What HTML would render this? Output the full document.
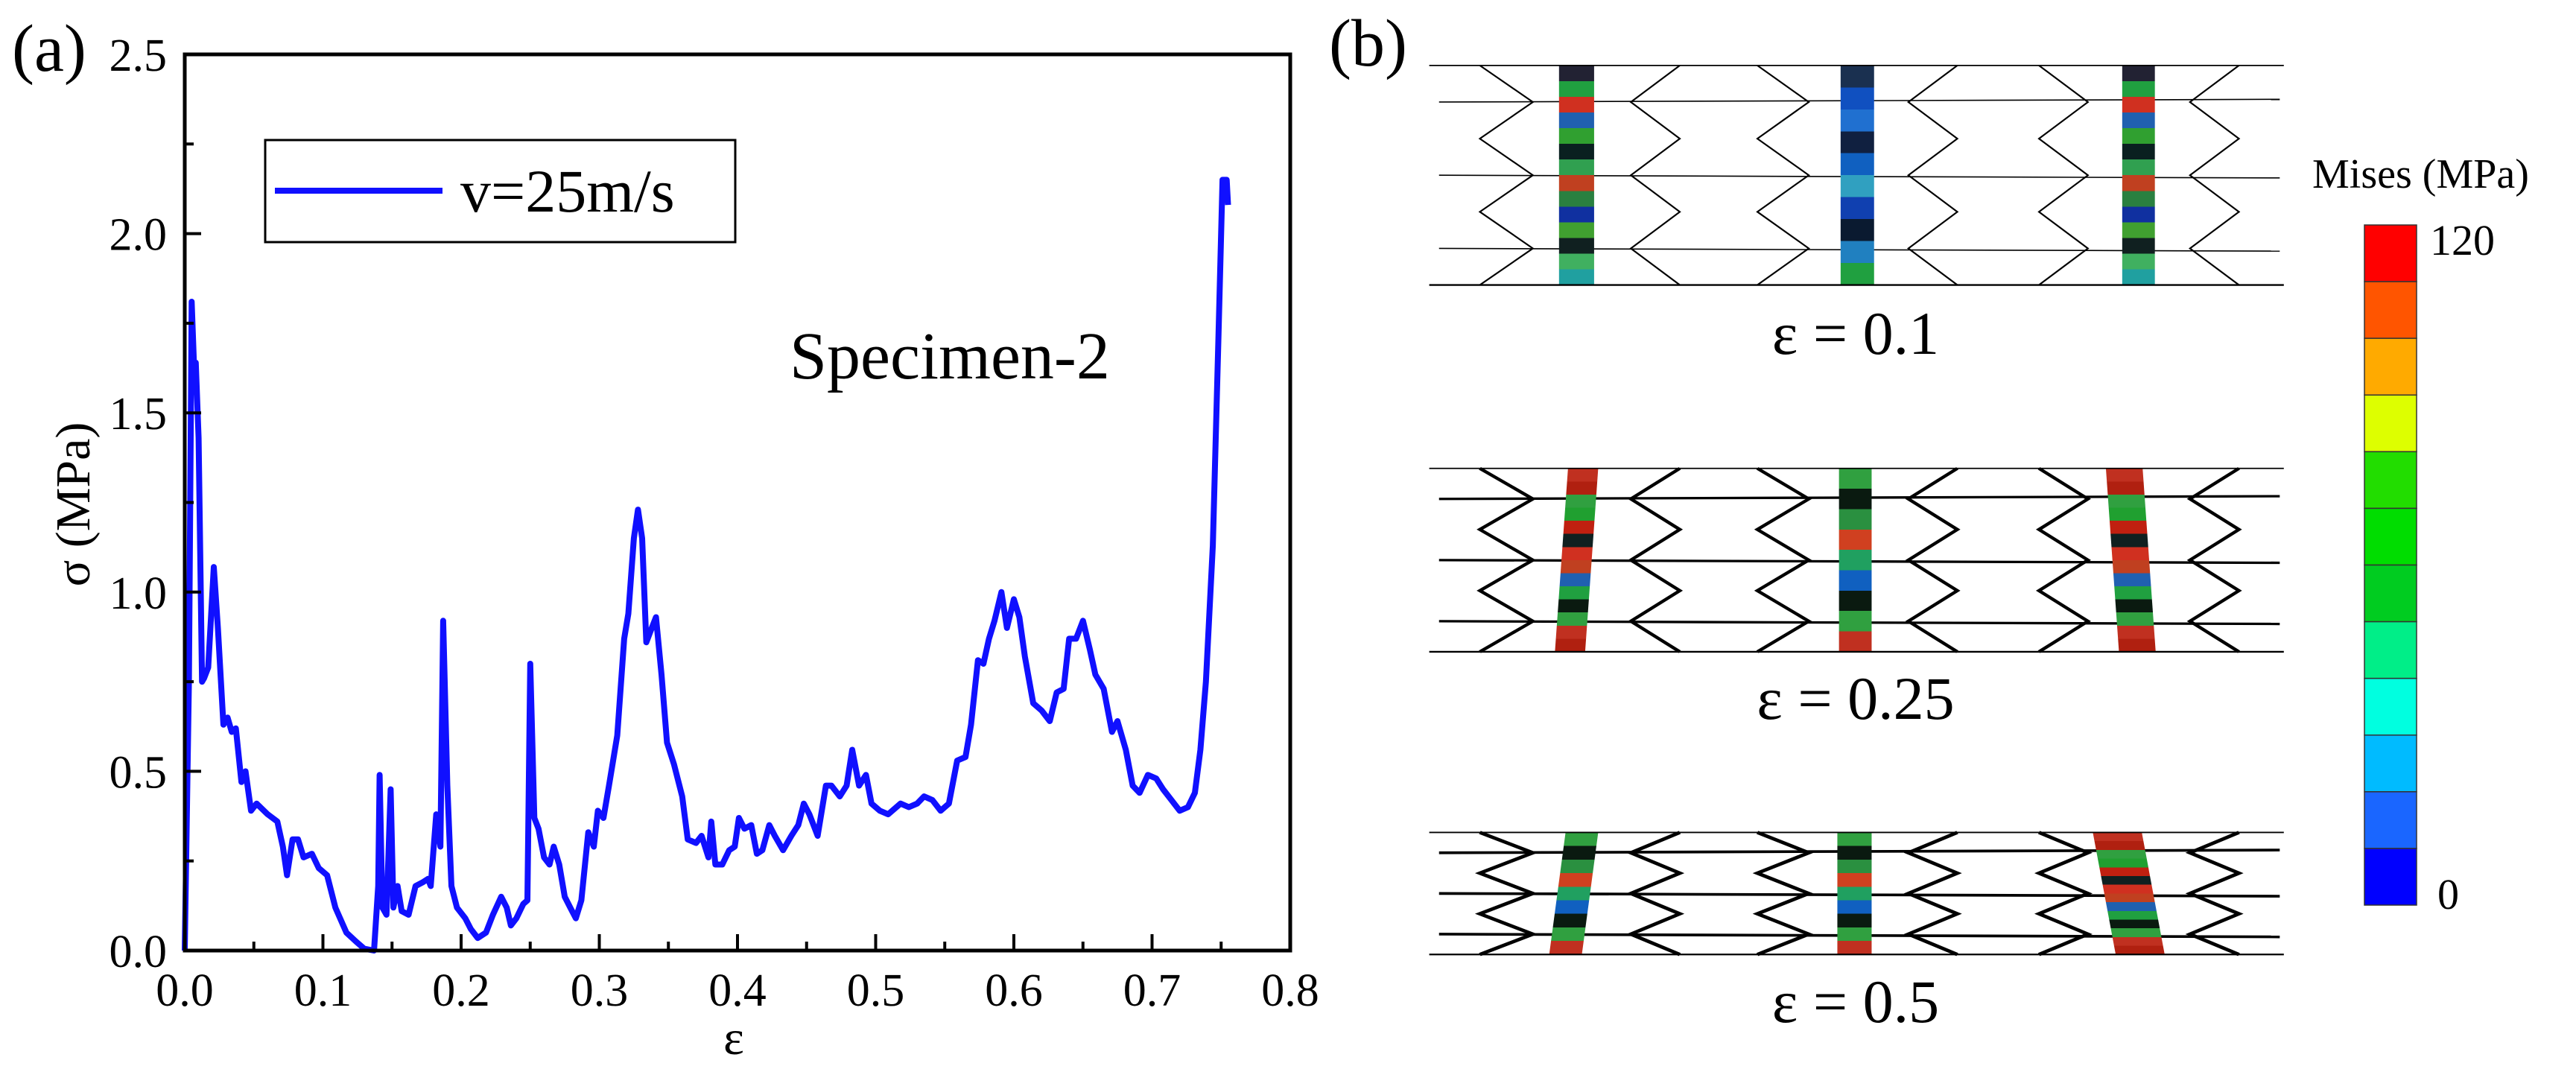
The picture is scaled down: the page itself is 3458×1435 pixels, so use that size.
<!DOCTYPE html>
<html><head><meta charset="utf-8"><style>
html,body{margin:0;padding:0;background:#fff;}
#wrap{position:relative;width:3458px;height:1435px;overflow:hidden;background:#fff;font-family:"Liberation Serif",serif;}
svg{position:absolute;left:0;top:0;}
</style></head><body>
<div id="wrap">
<svg id="chart" width="3458" height="1435" viewBox="0 0 3458 1435"></svg>
</div>
<script>
// ---- chart data (panel a) ----
const strain = [0,0.003,0.005,0.007,0.008,0.010,0.0125,0.014,0.017,0.021,0.024,0.028,0.031,0.034,0.037,0.041,0.044,0.048,0.052,0.06,0.067,0.071,0.074,0.078,0.082,0.086,0.092,0.097,0.103,0.109,0.117,0.124,0.13,0.137,0.14,0.141,0.143,0.146,0.149,0.151,0.154,0.157,0.162,0.167,0.172,0.176,0.178,0.182,0.185,0.187,0.19,0.193,0.197,0.203,0.207,0.212,0.218,0.223,0.229,0.233,0.236,0.24,0.245,0.248,0.25,0.253,0.256,0.26,0.264,0.267,0.271,0.275,0.279,0.283,0.287,0.292,0.296,0.299,0.303,0.307,0.313,0.318,0.321,0.325,0.328,0.331,0.334,0.337,0.341,0.345,0.349,0.354,0.36,0.364,0.37,0.374,0.379,0.381,0.384,0.389,0.394,0.398,0.401,0.405,0.41,0.414,0.418,0.423,0.427,0.433,0.439,0.444,0.448,0.452,0.458,0.464,0.468,0.474,0.479,0.483,0.488,0.493,0.497,0.503,0.509,0.518,0.524,0.53,0.535,0.541,0.547,0.553,0.559,0.565,0.569,0.574,0.578,0.582,0.586,0.591,0.595,0.6,0.604,0.608,0.614,0.62,0.626,0.631,0.636,0.64,0.645,0.65,0.655,0.659,0.665,0.671,0.675,0.681,0.686,0.691,0.697,0.703,0.708,0.714,0.72,0.726,0.731,0.735,0.739,0.744,0.748,0.751,0.754,0.755];
const stress = [0,0.75,1.81,1.6,1.64,1.43,0.75,0.76,0.79,1.07,0.9,0.63,0.65,0.61,0.62,0.47,0.50,0.39,0.41,0.38,0.36,0.29,0.21,0.31,0.31,0.26,0.27,0.23,0.21,0.12,0.05,0.025,0.005,0,0.18,0.49,0.12,0.10,0.45,0.12,0.18,0.11,0.10,0.18,0.19,0.2,0.18,0.38,0.29,0.92,0.46,0.18,0.12,0.09,0.06,0.035,0.05,0.10,0.15,0.12,0.07,0.09,0.13,0.14,0.80,0.37,0.34,0.26,0.24,0.29,0.24,0.15,0.12,0.09,0.14,0.33,0.29,0.39,0.37,0.46,0.60,0.87,0.94,1.15,1.23,1.15,0.86,0.89,0.93,0.77,0.58,0.52,0.43,0.31,0.30,0.32,0.26,0.36,0.24,0.24,0.28,0.29,0.37,0.34,0.35,0.27,0.28,0.35,0.32,0.28,0.32,0.35,0.41,0.38,0.32,0.46,0.46,0.43,0.46,0.56,0.46,0.49,0.41,0.39,0.38,0.41,0.40,0.41,0.43,0.42,0.39,0.41,0.53,0.54,0.63,0.81,0.80,0.87,0.92,1.0,0.90,0.98,0.93,0.82,0.69,0.67,0.64,0.72,0.73,0.87,0.87,0.92,0.84,0.77,0.73,0.61,0.64,0.56,0.46,0.44,0.49,0.48,0.45,0.42,0.39,0.40,0.44,0.56,0.75,1.13,1.70,2.15,2.15,2.08];
const xTicks = [0,0.1,0.2,0.3,0.4,0.5,0.6,0.7,0.8];
const xTickLabels = ["0.0","0.1","0.2","0.3","0.4","0.5","0.6","0.7","0.8"];
const yTicks = [0,0.5,1.0,1.5,2.0,2.5];
const yTickLabels = ["0.0","0.5","1.0","1.5","2.0","2.5"];
const colorbarColors = ["#ff0000","#ff5500","#ffaa00","#ddff00","#22dd00","#00dd00","#00cc20","#00ee88","#00ffe0","#00bbff","#1a66ff","#0000ff"];
const colorbarLabels = ["120","0"];

const NS="http://www.w3.org/2000/svg";
const svg=document.getElementById('chart');
function mk(tag,attrs,parent){const e=document.createElementNS(NS,tag);for(const k in attrs)e.setAttribute(k,attrs[k]);(parent||svg).appendChild(e);return e;}
const L=248,R=1732,T=73,B=1276;
const xs=v=>L+(v-0)/(0.8)*(R-L);
const ys=v=>B-(v/2.5)*(B-T);

let t=mk('text',{x:16,y:95,'font-size':90});t.textContent='(a)';



const pts=strain.map((s,i)=>xs(s).toFixed(1)+','+ys(stress[i]).toFixed(1)).join(' ');
let cl=mk('polyline',{points:pts,fill:'none',stroke:'#1010ff','stroke-width':8,'stroke-linejoin':'round'});



let fr=mk('rect',{x:L,y:T,width:R-L,height:B-T,fill:'none',stroke:'#000','stroke-width':5});



xTicks.forEach((v,i)=>{
  mk('line',{x1:xs(v),x2:xs(v),y1:B,y2:B-22,stroke:'#000','stroke-width':4});
  if(i<xTicks.length-1) mk('line',{x1:xs(v+0.05),x2:xs(v+0.05),y1:B,y2:B-12,stroke:'#000','stroke-width':4});
  const tx=mk('text',{x:xs(v),y:1350,'font-size':62,'text-anchor':'middle'});tx.textContent=xTickLabels[i];
  
  
});
yTicks.forEach((v,i)=>{
  mk('line',{x1:L,x2:L+22,y1:ys(v),y2:ys(v),stroke:'#000','stroke-width':4});
  if(i<yTicks.length-1) mk('line',{x1:L,x2:L+12,y1:ys(v+0.25),y2:ys(v+0.25),stroke:'#000','stroke-width':4});
  const ty=mk('text',{x:224,y:ys(v)+22,'font-size':62,'text-anchor':'end'});ty.textContent=yTickLabels[i];
  
  
});
let xt=mk('text',{x:985,y:1415,'font-size':66,'text-anchor':'middle'});xt.textContent='ε';


let yt=mk('text',{x:0,y:0,'font-size':66,'text-anchor':'middle',transform:'translate(120,677) rotate(-90)'});yt.textContent='σ (MPa)';



let lg=mk('g',{});


mk('rect',{x:356,y:188,width:631,height:137,fill:'#fff',stroke:'#000','stroke-width':3},lg);
mk('line',{x1:369,x2:594,y1:256,y2:256,stroke:'#1010ff','stroke-width':8},lg);
let lt=mk('text',{x:618,y:284,'font-size':82},lg);lt.textContent='v=25m/s';


let sp=mk('text',{x:1060,y:508,'font-size':90},);sp.textContent='Specimen-2';



t=mk('text',{x:1784,y:88,'font-size':90});t.textContent='(b)';


const g=mk('g',{transform:'translate(1740,0) scale(1.0957,0.9152)'});


const defs=mk('defs',{},g);
function grad(id,cols){const lgd=mk('linearGradient',{id:id,x1:0,y1:0,x2:0,y2:1},defs);const n=cols.length;cols.forEach((c,i)=>{mk('stop',{offset:i/n,'stop-color':c},lgd);mk('stop',{offset:(i+1)/n,'stop-color':c},lgd);});}
grad('g1',['#223','#20a040','#d03020','#2060b0','#30a030','#0a2020','#30a050','#c04020','#2a8040','#1030a0','#40a030','#102020','#40b060','#20a0a0']);
grad('g2',['#1a3050','#1050c0','#2070d0','#102040','#1060c0','#30a0c0','#1040b0','#0a1a30','#2080c0','#20a040']);
grad('g3',['#c03020','#b02010','#30a040','#20a030','#c02010','#102020','#d03020','#c04020','#2060b0','#20a040','#0a1a10','#30a040','#c03020','#b02010']);
grad('g4',['#30a040','#0a1a10','#2a9040','#d04020','#20a060','#1060c0','#0a1a10','#30a040','#c03020']);
const panels=[
 {T:96,B:418,w:2.2,bars:[['g1',322,365,0],['g2',667,708,0],['g1',1012,1052,0]]},
 {T:687,B:956,w:4.5,bars:[['g3',325,362,8],['g4',665,705,0],['g3',1000,1045,-8]]},
 {T:1221,B:1400,w:5,bars:[['g4',320,360,10],['g4',663,705,0],['g3',990,1050,-14]]}
];
const cols=[[225,290],[470,410],[565,628],[810,750],[910,970],[1155,1095]];
panels.forEach((p,pi)=>{
  const pg=mk('g',{},g);
  
  
  const h=p.B-p.T;
  for(let k=1;k<6;k+=2){mk('line',{x1:175,x2:1205,y1:p.T+k*h/6,y2:p.T+k*h/6+(k==1?-4:4),stroke:'#000','stroke-width':p.w*0.8},pg);}
  cols.forEach(c=>{
    let s=[];for(let k=0;k<=6;k++){s.push((k%2?c[1]:c[0])+','+(p.T+k*h/6));}
    mk('polyline',{points:s.join(' '),fill:'none',stroke:'#000','stroke-width':p.w},pg);
  });
  p.bars.forEach(b=>{
    mk('polygon',{points:`${b[1]+b[3]},${p.T} ${b[2]+b[3]},${p.T} ${b[2]-b[3]},${p.B} ${b[1]-b[3]},${p.B}`,fill:`url(#${b[0]})`},pg);
  });
  mk('line',{x1:163,x2:1210,y1:p.T,y2:p.T,stroke:'#000','stroke-width':2},pg);
  mk('line',{x1:163,x2:1210,y1:p.B,y2:p.B,stroke:'#000','stroke-width':2.5},pg);
});
[['ε = 0.1',475],['ε = 0.25',965],['ε = 0.5',1372]].forEach((l,i)=>{
  const e=mk('text',{x:2491,y:l[1],'font-size':82,'text-anchor':'middle'});e.textContent=l[0];
  
  
});
const cbT=302,cbB=1215,cbL=3174,cbW=70;
const segH=(cbB-cbT)/colorbarColors.length;
colorbarColors.forEach((c,i)=>{
  const r=mk('rect',{x:cbL,y:cbT+i*segH,width:cbW,height:segH,fill:c,stroke:'#333','stroke-width':1.5});
  
  
});
let ct=mk('text',{x:3104,y:252,'font-size':56});ct.textContent='Mises (MPa)';


let c1=mk('text',{x:3262,y:342,'font-size':58});c1.textContent=colorbarLabels[0];


let c0=mk('text',{x:3272,y:1220,'font-size':58});c0.textContent=colorbarLabels[1];


</script>
</body></html>
